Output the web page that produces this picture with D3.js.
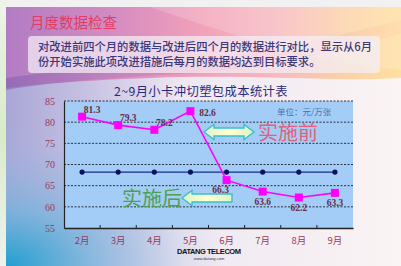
<!DOCTYPE html>
<html><head><meta charset="utf-8">
<script src="https://cdn.jsdelivr.net/npm/d3@7"></script>
<style>html,body{margin:0;padding:0;overflow:hidden;background:#f1f1f1;}</style>
</head><body>
<script>
const months = ["2月","3月","4月","5月","6月","7月","8月","9月"];
const costValues = [81.3, 79.3, 78.2, 82.6, 66.3, 63.6, 62.2, 63.3];
const targetValues = [68.2, 68.2, 68.2, 68.2, 68.2, 68.2, 68.2, 68.2];
const yTicks = [55, 60, 65, 70, 75, 80, 85];
const headerTitle = "月度数据检查";
const bodyLines = ["对改进前四个月的数据与改进后四个月的数据进行对比，显示从6月", "份开始实施此项改进措施后每月的数据均达到目标要求。"];
const chartTitle = "2~9月小卡冲切塑包成本统计表";
const unitText = "单位：元/万张";
const beforeText = "实施前";
const afterText = "实施后";

const W = 401, H = 266;
const svg = d3.select("body").append("svg").attr("width", W).attr("height", H);
const defs = svg.append("defs");
const lg = (id, x1, y1, x2, y2, stops) => {
  const g = defs.append("linearGradient").attr("id", id).attr("x1", x1).attr("y1", y1).attr("x2", x2).attr("y2", y2);
  stops.forEach(s => g.append("stop").attr("offset", s[0]).attr("stop-color", s[1]).attr("stop-opacity", s[2] == null ? 1 : s[2]));
};
const rg = (id, cx, cy, r, stops) => {
  const g = defs.append("radialGradient").attr("id", id).attr("cx", cx).attr("cy", cy).attr("r", r);
  stops.forEach(s => g.append("stop").attr("offset", s[0]).attr("stop-color", s[1]).attr("stop-opacity", s[2] == null ? 1 : s[2]));
};
lg("outerL", 0, 0, 0, 1, [[0, "#eef3ea"], [0.5, "#d8ecc8"], [1, "#eef2ee"]]);
lg("base", 0, 0, 1, 0, [[0, "#a9a6d6"], [0.22, "#c9c4e4"], [0.45, "#eee8f2"], [1, "#faf4f4"]]);
rg("teal", 0, 1, 0.55, [[0, "#1f9fd0"], [0.4, "#6fb4dc", 0.7], [1, "#b0b8e0", 0]]);
lg("head", 0, 0, 1, 0, [[0, "#b27cc4"], [0.3, "#d88ec0"], [0.5, "#f2a2b8"], [0.68, "#f7b8c0"], [0.85, "#fbd0a8"], [1, "#ffe0a0"]]);
lg("swoosh", 0, 0, 1, 0, [[0, "#7a5aa8", 0.9], [0.3, "#9a70b8", 0.5], [0.6, "#f07090", 0.6], [1, "#ff9070", 0.2]]);
lg("arrowFill", 0, 0, 1, 0, [[0, "#d8f4c8"], [0.5, "#ffffd0"], [1, "#d8f4c8"]]);

// outer background
svg.append("rect").attr("x", 0).attr("y", 0).attr("width", 7).attr("height", H).attr("fill", "url(#outerL)");
// slide
const sx = 6, sy = 7;
svg.append("rect").attr("x", sx).attr("y", sy).attr("width", W - sx).attr("height", H - sy).attr("fill", "url(#base)");
svg.append("rect").attr("x", sx).attr("y", sy).attr("width", W - sx).attr("height", H - sy).attr("fill", "url(#teal)");
// header band
svg.append("path").attr("d", `M${sx},${sy} L${W},${sy} L${W},78 C330,82 250,74 150,78 C90,80 40,84 ${sx},88 Z`).attr("fill", "url(#head)");
svg.append("path").attr("d", `M${sx},78 C60,70 120,66 200,60 C260,55 320,40 ${W},20 L${W},34 C320,56 250,70 180,74 C110,78 50,82 ${sx},90 Z`).attr("fill", "url(#swoosh)").attr("opacity", 0.55);
svg.append("path").attr("d", `M150,${sy} C220,30 300,60 ${W},70 L${W},${sy} Z`).attr("fill", "#fff").attr("opacity", 0.18);

// header title
svg.append("text").attr("x", 30).attr("y", 28).attr("font-family", "Noto Sans CJK SC").attr("font-size", 14.5)
  .attr("fill", "#e23c66").text(headerTitle);
// text box
svg.append("rect").attr("x", 28).attr("y", 36).attr("width", 352).attr("height", 37).attr("rx", 4)
  .attr("fill", "#f4f0f8").attr("opacity", 0.72);
bodyLines.forEach((t, i) => {
  svg.append("text").attr("x", 38).attr("y", 51 + i * 14.5).attr("font-family", "Noto Sans CJK SC")
    .attr("font-size", 11.3).attr("font-weight", 500).attr("fill", "#3a3878").text(t);
});

// chart
const x = d3.scaleBand().domain(months).range([64, 353]);
const y = d3.scaleLinear().domain([55, 85]).range([228, 101]);
const g = svg.append("g");
g.append("rect").attr("x", 64).attr("y", y(85)).attr("width", 289).attr("height", y(55) - y(85)).attr("fill", "#a3cdf6");
// gridlines
g.selectAll(".grid").data(yTicks.filter(d => d > 55)).join("line")
  .attr("x1", 64).attr("x2", 353).attr("y1", d => y(d)).attr("y2", d => y(d))
  .attr("stroke", "#2a3040").attr("stroke-width", 1).attr("stroke-dasharray", "2,1.5");
// axes
const yAxis = d3.axisLeft(y).tickValues(yTicks).tickSize(0).tickPadding(9).tickFormat(d3.format("d"));
const ya = g.append("g").attr("transform", "translate(64,0)").call(yAxis);
ya.select(".domain").attr("stroke", "#222").attr("stroke-width", 1.2);
ya.selectAll("text").attr("font-family", "Liberation Serif").attr("font-size", 10).attr("fill", "#9a3a5c");
const xAxis = d3.axisBottom(x).tickSize(0).tickPadding(9);
const xa = g.append("g").attr("transform", `translate(0,${y(55)})`).call(xAxis);
xa.select(".domain").attr("stroke", "#222").attr("stroke-width", 1.5);
xa.selectAll("text").attr("font-family", "Noto Sans CJK SC").attr("font-size", 9.5).attr("fill", "#9a3a5c");
// band boundary ticks
g.selectAll(".bt").data(months.slice(1)).join("line")
  .attr("x1", d => x(d)).attr("x2", d => x(d)).attr("y1", y(55)).attr("y2", y(55) - 3)
  .attr("stroke", "#222").attr("stroke-width", 1);

const cx = d => x(d) + x.bandwidth() / 2;
// target line
g.append("path").datum(targetValues.map((v, i) => [months[i], v]))
  .attr("d", d3.line().x(d => cx(d[0])).y(d => y(d[1])))
  .attr("fill", "none").attr("stroke", "#1a2a8a").attr("stroke-width", 1.3);
g.selectAll(".td").data(targetValues.map((v, i) => [months[i], v])).join("circle")
  .attr("cx", d => cx(d[0])).attr("cy", d => y(d[1])).attr("r", 2.6).attr("fill", "#0a1060");
// cost line
const cd = costValues.map((v, i) => [months[i], v, i]);
g.append("path").datum(cd).attr("d", d3.line().x(d => cx(d[0])).y(d => y(d[1])))
  .attr("fill", "none").attr("stroke", "#ff00ff").attr("stroke-width", 1.6);
g.selectAll(".sq").data(cd).join("rect")
  .attr("x", d => cx(d[0]) - 4).attr("y", d => y(d[1]) - 4).attr("width", 8).attr("height", 8).attr("fill", "#ff00ff");
g.selectAll(".lbl").data(cd).join("text")
  .attr("x", d => cx(d[0]) + (d[2] < 3 ? 10 : d[2] === 3 ? 17 : d[2] === 4 ? -6 : 0))
  .attr("y", d => y(d[1]) + (d[2] < 3 ? -4 : d[2] === 3 ? 5 : 13))
  .attr("text-anchor", "middle").attr("font-family", "Liberation Serif").attr("font-weight", "bold")
  .attr("font-size", 9.5).attr("fill", "#6a2a48").text(d => d[1]);

// chart title
svg.append("text").attr("x", 201).attr("y", 96).attr("text-anchor", "middle").attr("font-family", "Noto Sans CJK SC")
  .attr("font-size", 12.3).attr("fill", "#2a2a78").attr("letter-spacing", 0.4).text(chartTitle);
svg.append("text").attr("x", 277).attr("y", 115).attr("font-family", "Noto Sans CJK SC")
  .attr("font-size", 8.5).attr("fill", "#4a70b0").text(unitText);

// arrows
const arrowPath = (x0, x1, yc) => {
  const h = 4, hh = 7.5, hl = 10;
  return `M${x0},${yc} L${x0 + hl},${yc - hh} L${x0 + hl},${yc - h} L${x1 - hl},${yc - h} L${x1 - hl},${yc - hh} L${x1},${yc} L${x1 - hl},${yc + hh} L${x1 - hl},${yc + h} L${x0 + hl},${yc + h} L${x0 + hl},${yc + hh} Z`;
};
svg.append("path").attr("d", arrowPath(204, 254, 132)).attr("fill", "url(#arrowFill)").attr("stroke", "#3cc0c8").attr("stroke-width", 1.4);
svg.append("path").attr("d", `M182,198 L192,190.5 L192,194 L232,194 L232,202 L192,202 L192,205.5 Z`).attr("fill", "url(#arrowFill)").attr("stroke", "#3cc0c8").attr("stroke-width", 1.4);

svg.append("text").attr("x", 258).attr("y", 140).attr("font-family", "Noto Sans CJK SC").attr("font-size", 20)
  .attr("fill", "#e4607a").text(beforeText);
svg.append("text").attr("x", 122).attr("y", 206).attr("font-family", "Noto Sans CJK SC").attr("font-size", 20)
  .attr("fill", "#4fa050").text(afterText);

// logo
svg.append("text").attr("x", 209).attr("y", 254).attr("text-anchor", "middle").attr("font-family", "Liberation Sans Narrow, Liberation Sans")
  .attr("font-weight", "bold").attr("font-size", 7.5).attr("fill", "#111").attr("textLength", 64).text("DATANG TELECOM");
svg.append("text").attr("x", 209).attr("y", 259.5).attr("text-anchor", "middle").attr("font-family", "Liberation Sans")
  .attr("font-size", 4).attr("fill", "#333").text("www.datang.com");
</script>
</body></html>
